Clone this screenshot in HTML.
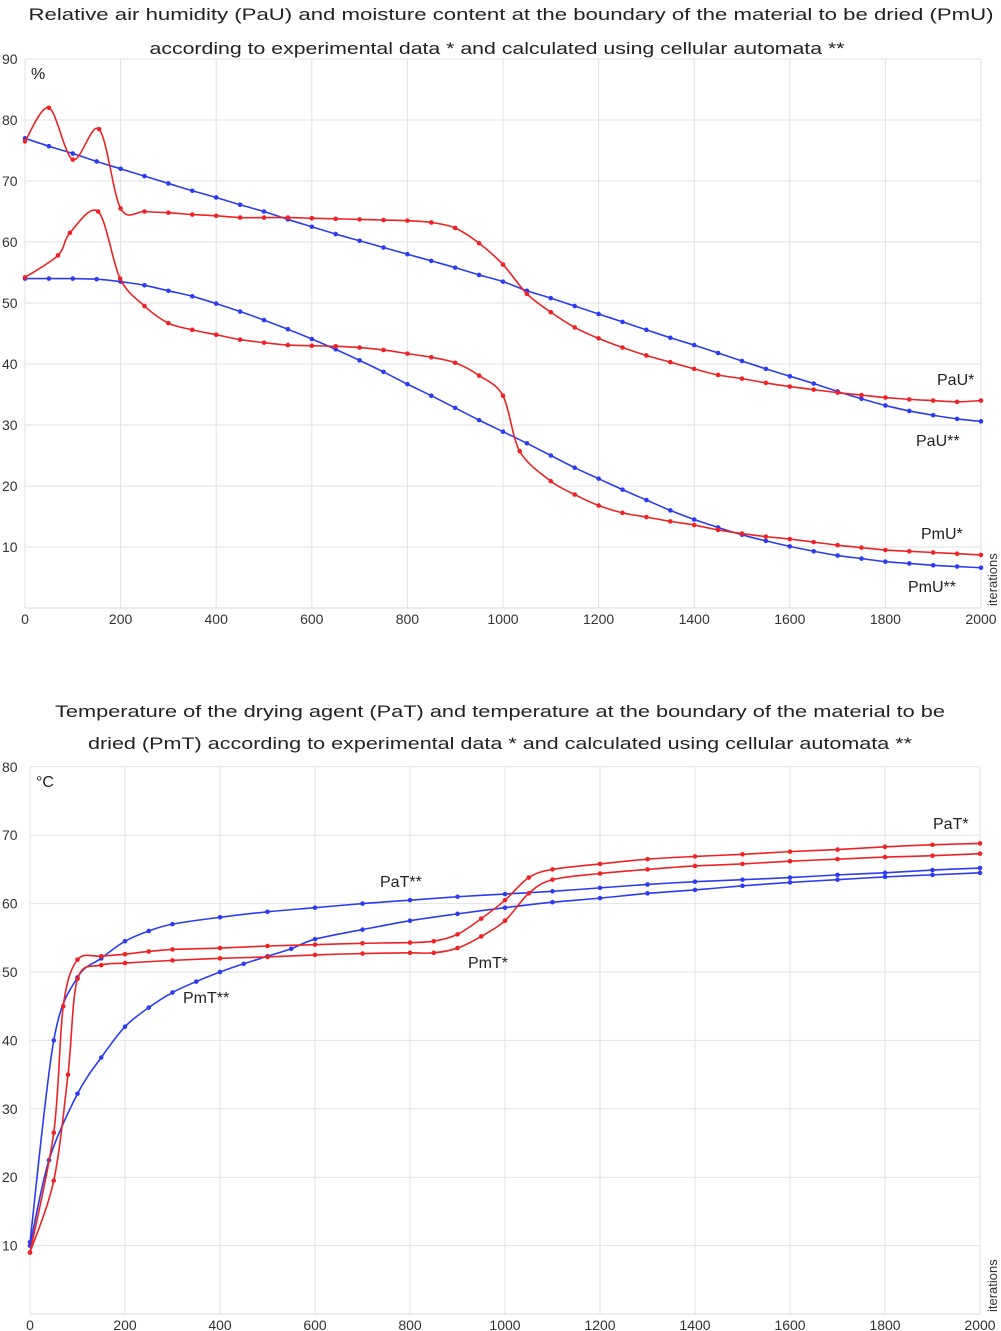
<!DOCTYPE html>
<html><head><meta charset="utf-8"><style>
html,body{margin:0;padding:0;background:#fff;}
svg{display:block;font-family:"Liberation Sans",sans-serif;}
</style></head><body>
<svg id="root" width="1001" height="1331" viewBox="0 0 1001 1331">
<text x="511" y="20" text-anchor="middle" font-size="17" fill="#222" textLength="965" lengthAdjust="spacingAndGlyphs">Relative air humidity (PaU) and moisture content at the boundary of the material to be dried (PmU)</text>
<text x="497" y="54" text-anchor="middle" font-size="17" fill="#222" textLength="695" lengthAdjust="spacingAndGlyphs">according to experimental data * and calculated using cellular automata **</text>
<text x="500" y="717" text-anchor="middle" font-size="17" fill="#222" textLength="890" lengthAdjust="spacingAndGlyphs">Temperature of the drying agent (PaT) and temperature at the boundary of the material to be</text>
<text x="500" y="749" text-anchor="middle" font-size="17" fill="#222" textLength="824" lengthAdjust="spacingAndGlyphs">dried (PmT) according to experimental data * and calculated using cellular automata **</text>
<g id="c1"></g>
<g id="c2"></g>
</svg>
<script>
// ---- Chart 1 data ----
const c1Yticks=[10,20,30,40,50,60,70,80,90];
const xTicks=[0,200,400,600,800,1000,1200,1400,1600,1800,2000];
const pauStarX=[0,50,100,155,200,250,300,350,400,450,500,550,600,650,700,750,800,850,900,950,1000,1050,1100,1150,1200,1250,1300,1350,1400,1450,1500,1550,1600,1650,1700,1750,1800,1850,1900,1950,2000];
const pauStarY=[76.5,82,73.5,78.5,65.5,65,64.8,64.5,64.3,64,64,64,63.9,63.8,63.7,63.6,63.5,63.2,62.3,59.8,56.3,51.5,48.5,46,44.2,42.7,41.4,40.3,39.2,38.2,37.6,36.9,36.3,35.8,35.3,34.9,34.5,34.2,34,33.8,34];
const pauCalcX=[0,50,100,150,200,250,300,350,400,450,500,550,600,650,700,750,800,850,900,950,1000,1050,1100,1150,1200,1250,1300,1350,1400,1450,1500,1550,1600,1650,1700,1750,1800,1850,1900,1950,2000];
const pauCalcY=[77,75.7,74.5,73.2,72,70.8,69.6,68.4,67.3,66.1,65,63.7,62.5,61.3,60.2,59.1,58,56.9,55.8,54.6,53.5,52,50.8,49.5,48.2,46.9,45.6,44.3,43.1,41.8,40.5,39.2,38,36.8,35.5,34.3,33.2,32.3,31.6,31,30.6];
const pmuStarX=[0,69,94,153,199,250,300,350,400,450,500,550,600,650,700,750,800,850,900,950,1000,1035,1100,1150,1200,1250,1300,1350,1400,1450,1500,1550,1600,1650,1700,1750,1800,1850,1900,1950,2000];
const pmuStarY=[54.2,57.8,61.5,65,54,49.5,46.7,45.6,44.8,44,43.5,43.1,43,42.9,42.7,42.3,41.7,41.1,40.2,38.1,34.8,25.7,20.8,18.6,16.8,15.6,14.9,14.2,13.6,12.8,12.2,11.7,11.3,10.8,10.3,9.9,9.5,9.3,9.1,8.9,8.7];
const pmuCalcX=pauCalcX;
const pmuCalcY=[54,54,54,53.9,53.5,52.9,52,51.1,49.9,48.6,47.2,45.7,44.1,42.4,40.6,38.7,36.7,34.8,32.8,30.8,28.9,27,25,23,21.2,19.4,17.7,16,14.5,13.2,12,11,10.1,9.3,8.6,8.1,7.6,7.3,7,6.8,6.6];
// ---- Chart 2 data ----
const c2Yticks=[10,20,30,40,50,60,70,80];
const patStarX=[0,50,70,100,150,200,250,300,400,500,600,700,800,850,900,950,1000,1050,1100,1200,1300,1400,1500,1600,1700,1800,1900,2000];
const patStarY=[9,26.5,45,51.8,52.3,52.6,53,53.3,53.5,53.8,54,54.2,54.3,54.5,55.5,57.8,60.5,63.8,65,65.8,66.5,66.9,67.2,67.6,67.9,68.3,68.6,68.8];
const pmtStarX=[0,50,80,100,150,200,300,400,500,600,700,800,850,900,950,1000,1050,1100,1200,1300,1400,1500,1600,1700,1800,1900,2000];
const pmtStarY=[9,19.5,35,49,51,51.3,51.7,52,52.2,52.5,52.7,52.8,52.8,53.5,55.2,57.5,61.5,63.5,64.4,65,65.5,65.8,66.2,66.5,66.8,67,67.3];
const patCalcX=[0,50,100,150,200,250,300,400,500,600,700,800,900,1000,1100,1200,1300,1400,1500,1600,1700,1800,1900,2000];
const patCalcY=[10.5,40,49.2,52,54.5,56,57,58,58.8,59.4,60,60.5,61,61.4,61.8,62.3,62.8,63.2,63.5,63.8,64.2,64.5,64.9,65.2];
const pmtCalcX=[0,40,100,150,200,250,300,350,400,450,500,550,600,700,800,900,1000,1100,1200,1300,1400,1500,1600,1700,1800,1900,2000];
const pmtCalcY=[10,22.5,32.2,37.5,42,44.8,47,48.6,50,51.2,52.3,53.4,54.8,56.2,57.5,58.5,59.4,60.2,60.8,61.5,62,62.6,63.1,63.5,63.9,64.2,64.5];

const NS="http://www.w3.org/2000/svg";
function mk(parent,tag,attrs){const e=document.createElementNS(NS,tag);for(const k in attrs)e.setAttribute(k,attrs[k]);parent.appendChild(e);return e;}
function pathD(pts){let d="M"+pts[0][0]+","+pts[0][1];for(let i=0;i<pts.length-1;i++){const p0=pts[Math.max(0,i-1)],p1=pts[i],p2=pts[i+1],p3=pts[Math.min(pts.length-1,i+2)];const t=0.16;d+=" C"+(p1[0]+(p2[0]-p0[0])*t)+","+(p1[1]+(p2[1]-p0[1])*t)+" "+(p2[0]-(p3[0]-p1[0])*t)+","+(p2[1]-(p3[1]-p1[1])*t)+" "+p2[0]+","+p2[1];}return d;}
function chart(g,cfg){
  const sx=v=>cfg.x0+(v/2000)*(cfg.x1-cfg.x0);
  const sy=v=>cfg.y0-v*cfg.k;
  cfg.yt.forEach(t=>{
    const l=mk(g,'line',{x1:cfg.x0,x2:cfg.x1,y1:sy(t),y2:sy(t),stroke:'#e2e2e2','stroke-width':1});
    
    
    const tx=mk(g,'text',{x:2,y:sy(t)+5,'font-size':14,fill:'#333'});tx.textContent=t;
    
    
  });
  xTicks.forEach(t=>{
    const l=mk(g,'line',{x1:sx(t),x2:sx(t),y1:sy(cfg.ymax),y2:cfg.y0,stroke:'#e2e2e2','stroke-width':1});
    
    
    const tx=mk(g,'text',{x:sx(t),y:cfg.y0+16,'font-size':14,fill:'#333','text-anchor':'middle'});tx.textContent=t;
    
    
  });
  const ax=mk(g,'line',{x1:cfg.x0,x2:cfg.x1,y1:cfg.y0,y2:cfg.y0,stroke:'#d8d8d8','stroke-width':1});
  
  
  const it=mk(g,'text',{transform:'translate(997,'+(cfg.y0-2)+') rotate(-90)','font-size':13,fill:'#333'});it.textContent='iterations';
  
  
  const un=mk(g,'text',{x:cfg.x0+6,y:sy(cfg.ymax)+20,'font-size':16,fill:'#222'});un.textContent=cfg.unit;
  
  
  cfg.series.forEach(s=>{
    const pts=s.x.map((v,i)=>[sx(v),sy(s.y[i])]);
    const p=mk(g,'path',{d:pathD(pts),fill:'none',stroke:s.c,'stroke-width':1.6});
    
    
    pts.forEach(q=>{const c=mk(g,'circle',{cx:q[0],cy:q[1],r:2.3,fill:s.c});
      
      });
  });
  cfg.labels.forEach(L=>{const t=mk(g,'text',{x:L[1],y:L[2],'font-size':16,fill:'#222'});t.textContent=L[0];
    
    });
}
chart(document.getElementById('c1'),{x0:25,x1:981,y0:608,k:6.1,ymax:90,yt:c1Yticks,unit:'%',
 series:[{name:'pau-calc',x:pauCalcX,y:pauCalcY,c:'#2b3cf0'},{name:'pmu-calc',x:pmuCalcX,y:pmuCalcY,c:'#2b3cf0'},
 {name:'pau-exp',x:pauStarX,y:pauStarY,c:'#ee2222'},{name:'pmu-exp',x:pmuStarX,y:pmuStarY,c:'#ee2222'}],
 labels:[['PaU*',937,385],['PaU**',916,446],['PmU*',921,539],['PmU**',908,592]]});
chart(document.getElementById('c2'),{x0:30,x1:980,y0:1314,k:6.84,ymax:80,yt:c2Yticks,unit:'°C',
 series:[{name:'pat-calc',x:patCalcX,y:patCalcY,c:'#2b3cf0'},{name:'pmt-calc',x:pmtCalcX,y:pmtCalcY,c:'#2b3cf0'},
 {name:'pat-exp',x:patStarX,y:patStarY,c:'#ee2222'},{name:'pmt-exp',x:pmtStarX,y:pmtStarY,c:'#ee2222'}],
 labels:[['PaT*',933,829],['PaT**',380,887],['PmT*',468,968],['PmT**',183,1003]]});
</script>
</body></html>
